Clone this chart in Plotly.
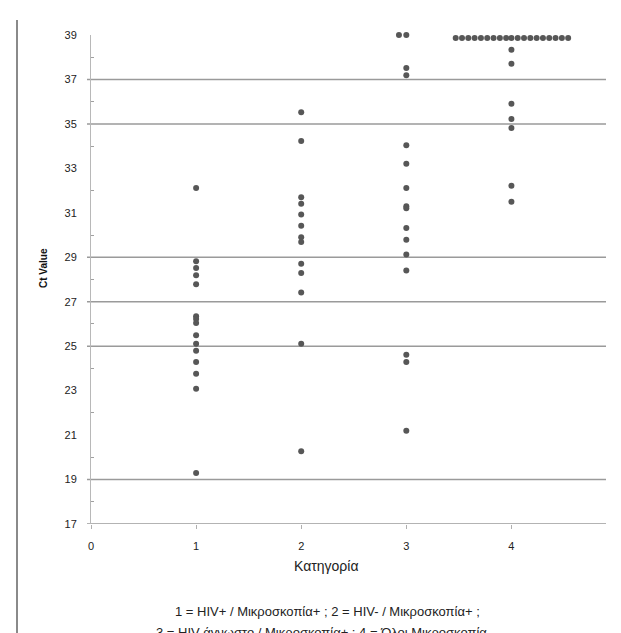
import plotly.graph_objects as go

# ---- data ----
cat1_ct = [32.12, 28.82, 28.52, 28.19, 27.79, 26.35, 26.22, 26.04, 25.49, 25.11,
           24.80, 24.29, 23.76, 23.08, 19.30]
cat2_ct = [35.52, 34.23, 31.70, 31.41, 30.92, 30.42, 29.90, 29.69, 28.71, 28.29,
           27.41, 25.11, 20.27]
cat3_x = [2.93, 3, 3, 3, 3, 3, 3, 3, 3, 3, 3, 3, 3, 3, 3, 3]
cat3_ct = [39.0, 39.0, 37.52, 37.19, 34.04, 33.21, 32.12, 31.30, 31.20, 30.32,
           29.79, 29.12, 28.41, 24.62, 24.29, 21.20]
cat4_ct = [38.34, 37.71, 35.91, 35.22, 34.82, 32.22, 31.50]
# category 4 undetermined samples (Ct 39), jittered horizontally
cat4_top_x_upper = [3.50, 3.56, 3.63, 3.69, 3.75, 3.81, 3.88, 3.94, 4.00, 4.06,
                    4.13, 4.19, 4.25, 4.31, 4.38, 4.44, 4.50]
cat4_top_x_lower = [3.47, 3.53, 3.59, 3.65, 3.71, 3.77, 3.83, 3.89, 3.95, 4.00,
                    4.06, 4.12, 4.18, 4.24, 4.30, 4.36, 4.42, 4.48, 4.54]
cat4_top_ct_upper = 39.15
cat4_top_ct_lower = 38.86

y_ticks = [17, 19, 21, 23, 25, 27, 29, 31, 33, 35, 37, 39]
x_ticks = [0, 1, 2, 3, 4]
hlines = [17, 19, 25, 27, 29, 35, 37]

xs, ys = [], []
xs += [1] * len(cat1_ct); ys += cat1_ct
xs += [2] * len(cat2_ct); ys += cat2_ct
xs += cat3_x; ys += cat3_ct
xs += [4] * len(cat4_ct); ys += cat4_ct
xs += cat4_top_x_lower; ys += [cat4_top_ct_lower] * len(cat4_top_x_lower)
xs += cat4_top_x_upper; ys += [cat4_top_ct_upper] * len(cat4_top_x_upper)

fig = go.Figure()
fig.add_trace(go.Scatter(
    x=xs, y=ys, mode="markers", cliponaxis=False,
    marker=dict(color="#575757", size=6, line=dict(width=0)),
    showlegend=False, hoverinfo="skip"))

L, R, T, B = 83, 23, 27, 117
W, H = 621, 633
pw, ph = W - L - R, H - T - B

shapes = []
for v in hlines:
    shapes.append(dict(type="line", xref="paper", yref="y",
                       x0=-4 / pw, x1=1, y0=v, y1=v,
                       line=dict(color="#9a9a9a", width=1.5), layer="below"))
# left border line of the original figure frame
shapes.append(dict(type="line", xref="paper", yref="paper",
                   x0=(9 - L) / pw, x1=(9 - L) / pw,
                   y0=(H - B - 12) / ph, y1=-(B + 5) / ph,
                   line=dict(color="#8a8a8a", width=2)))

fig.update_layout(
    width=W, height=H,
    margin=dict(l=L, r=R, t=T, b=B, pad=0),
    paper_bgcolor="white", plot_bgcolor="white",
    font=dict(family="Liberation Sans, Arial, sans-serif", color="#222222", size=11),
    shapes=shapes,
    xaxis=dict(range=[0, 4.9], tickvals=x_ticks, ticks="outside", ticklen=4,
               tickcolor="#b0b0b0", showgrid=False, zeroline=False,
               showline=False, tickfont=dict(size=11, color="#222222"),
               ticklabelstandoff=8, fixedrange=True),
    yaxis=dict(range=[17, 39], tickvals=y_ticks, ticks="", showgrid=False,
               zeroline=False, showline=True, linecolor="#b8b8b8", linewidth=1,
               tickfont=dict(size=11, color="#222222"), ticklabelstandoff=11,
               minor=dict(tickvals=[18, 20, 22, 24, 26, 28, 30, 32, 34, 36, 38],
                          ticks="inside", ticklen=3, tickcolor="#a0a0a0"),
               fixedrange=True),
    annotations=[
        dict(text="<b>Ct Value</b>", xref="paper", yref="paper",
             x=(35 - L) / pw, y=(H - B - 260) / ph, showarrow=False,
             textangle=-90, font=dict(size=10, color="#111111"),
             xanchor="center", yanchor="middle"),
        dict(text="Κατηγορία", xref="paper", yref="paper",
             x=(318 - L) / pw, y=(H - B - 558) / ph, showarrow=False,
             font=dict(size=14, color="#222222"), xanchor="center", yanchor="middle"),
        dict(text="1 = HIV+ / Μικροσκοπία+ ; 2 = HIV- / Μικροσκοπία+ ;",
             xref="paper", yref="paper",
             x=(319 - L) / pw, y=(H - B - 603) / ph, showarrow=False,
             font=dict(size=13, color="#222222"), xanchor="center", yanchor="middle"),
        dict(text="3 = HIV άγνωστο / Μικροσκοπία+ ; 4 = Όλοι Μικροσκοπία –",
             xref="paper", yref="paper",
             x=(319 - L) / pw, y=(H - B - 624) / ph, showarrow=False,
             font=dict(size=13, color="#222222"), xanchor="center", yanchor="middle"),
    ],
)

fig.write_html("out.html")
